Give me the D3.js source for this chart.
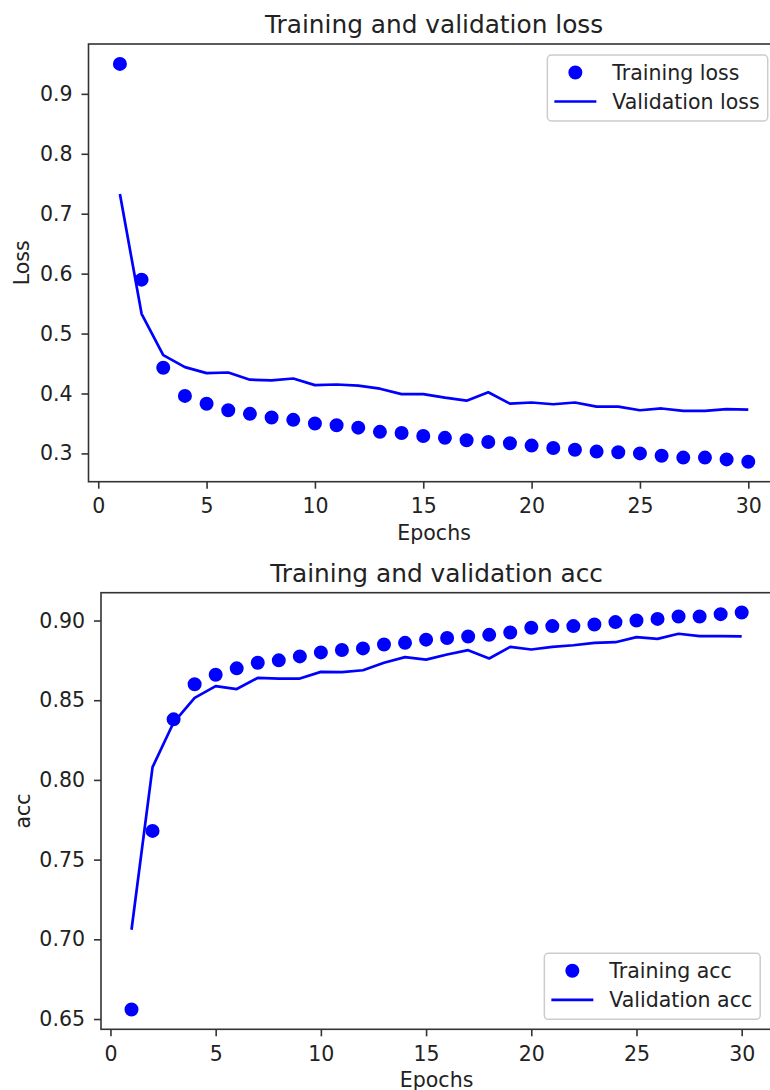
<!DOCTYPE html>
<html>
<head>
<meta charset="utf-8">
<script src="https://cdn.jsdelivr.net/npm/d3@7"></script>
<style>
  html, body { margin: 0; padding: 0; background: #fff; }
  svg { display: block; overflow: hidden; font-family: "DejaVu Sans", sans-serif; }
</style>
</head>
<body>
<svg id="chart"></svg>
<script>
var epochs = d3.range(1, 31);
var trainLoss = [0.950, 0.590, 0.443, 0.396, 0.383, 0.372, 0.366, 0.360, 0.356, 0.350,
  0.347, 0.343, 0.336, 0.334, 0.329, 0.326, 0.322, 0.319, 0.317, 0.313,
  0.309, 0.306, 0.303, 0.302, 0.300, 0.296, 0.293, 0.293, 0.290, 0.286];
var valLoss = [0.733, 0.533, 0.464, 0.444, 0.434, 0.435, 0.423, 0.422, 0.425, 0.414,
  0.415, 0.413, 0.408, 0.399, 0.399, 0.393, 0.388, 0.402, 0.383, 0.385,
  0.382, 0.385, 0.378, 0.378, 0.372, 0.375, 0.371, 0.371, 0.374, 0.373];
var trainAcc = [0.656, 0.768, 0.838, 0.860, 0.866, 0.870, 0.8735, 0.875, 0.8775, 0.880,
  0.8815, 0.8825, 0.885, 0.886, 0.888, 0.889, 0.890, 0.891, 0.8925, 0.8955,
  0.8965, 0.8965, 0.8975, 0.899, 0.900, 0.901, 0.9025, 0.9025, 0.904, 0.905];
var valAcc = [0.706, 0.808, 0.836, 0.8515, 0.8588, 0.857, 0.864, 0.8636, 0.8636, 0.8678,
  0.8676, 0.8688, 0.8735, 0.877, 0.8755, 0.8787, 0.8814, 0.8762, 0.8835, 0.8818,
  0.8835, 0.8845, 0.886, 0.8864, 0.8896, 0.8885, 0.8917, 0.8902, 0.8902, 0.890];
var epochTicks = [0, 5, 10, 15, 20, 25, 30];
var lossTicks = [0.3, 0.4, 0.5, 0.6, 0.7, 0.8, 0.9];
var accTicks = [0.65, 0.70, 0.75, 0.80, 0.85, 0.90];

(function () {
  var W = 770, H = 1090;
  var ink = "#222";
  var spine = "#333";
  var blue = "#0000ff";
  var fs = "20.5px";

  var svg = d3.select("#chart")
    .attr("width", W)
    .attr("height", H)
    .attr("viewBox", [0, 0, W, H]);

  // matplotlib-style 5% margins
  function padExtent(ext) {
    var d = (ext[1] - ext[0]) * 0.05;
    return [ext[0] - d, ext[1] + d];
  }

  function panel(o) {
    var x = d3.scaleLinear().domain(padExtent(d3.extent(epochs))).range([o.left, o.right]);
    var y = d3.scaleLinear()
      .domain(padExtent(d3.extent(o.train.concat(o.val))))
      .range([o.bottom, o.top]);

    var g = svg.append("g");

    var xAxis = g.append("g")
      .attr("transform", "translate(0," + o.bottom + ")")
      .call(d3.axisBottom(x).tickValues(epochTicks).tickSize(7).tickPadding(10).tickSizeOuter(0));
    var yAxis = g.append("g")
      .attr("transform", "translate(" + o.left + ",0)")
      .call(d3.axisLeft(y).tickValues(o.yTicks).tickFormat(d3.format(o.fmt))
        .tickSize(7).tickPadding(9).tickSizeOuter(0));

    [xAxis, yAxis].forEach(function (a) {
      a.select(".domain").remove();
      a.selectAll(".tick line").attr("stroke", spine).attr("stroke-width", 1.6);
      a.selectAll(".tick text")
        .attr("fill", ink)
        .style("font-family", "DejaVu Sans")
        .style("font-size", fs);
    });

    g.selectAll("circle.train")
      .data(o.train)
      .join("circle")
      .attr("class", "train")
      .attr("cx", function (d, i) { return x(epochs[i]); })
      .attr("cy", function (d) { return y(d); })
      .attr("r", 6)
      .attr("fill", blue)
      .attr("stroke", blue)
      .attr("stroke-width", 2);

    var line = d3.line()
      .x(function (d, i) { return x(epochs[i]); })
      .y(function (d) { return y(d); });
    g.append("path")
      .datum(o.val)
      .attr("d", line)
      .attr("fill", "none")
      .attr("stroke", blue)
      .attr("stroke-width", 2.7)
      .attr("stroke-linejoin", "round");

    // frame (right side falls outside the picture, as in the original)
    g.append("rect")
      .attr("x", o.left)
      .attr("y", o.top)
      .attr("width", o.right - o.left)
      .attr("height", o.bottom - o.top)
      .attr("fill", "none")
      .attr("stroke", spine)
      .attr("stroke-width", 1.6);

    var cx = (o.left + o.right) / 2;
    g.append("text")
      .attr("x", cx)
      .attr("y", o.top - 11)
      .attr("text-anchor", "middle")
      .attr("fill", ink)
      .style("font-size", "24.8px")
      .text(o.title);

    g.append("text")
      .attr("x", cx)
      .attr("y", o.bottom + 58)
      .attr("text-anchor", "middle")
      .attr("fill", ink)
      .style("font-size", fs)
      .text("Epochs");

    g.append("text")
      .attr("transform", "translate(" + o.yLabelX + "," + (o.top + o.bottom) / 2 + ") rotate(-90)")
      .attr("text-anchor", "middle")
      .attr("fill", ink)
      .style("font-size", fs)
      .text(o.yLabel);

    // legend
    var lg = g.append("g");
    var box = lg.append("rect");
    var labels = lg.selectAll("text")
      .data(o.labels)
      .join("text")
      .attr("fill", ink)
      .style("font-size", fs)
      .text(function (d) { return d; });
    var tw = 0;
    labels.each(function () { tw = Math.max(tw, this.getComputedTextLength()); });
    var bw = 65 + tw + 8, bh = 66;
    var bx = o.right - 12 - bw;
    var by = o.legendTop ? o.top + 11 : o.bottom - 10 - bh;
    box.attr("x", bx).attr("y", by).attr("width", bw).attr("height", bh)
      .attr("rx", 4)
      .attr("fill", "#fff").attr("fill-opacity", 0.8)
      .attr("stroke", "#cccccc").attr("stroke-width", 1.5);
    var rows = [by + 17.5, by + 46.5];
    labels.attr("x", bx + 65).attr("y", function (d, i) { return rows[i] + 7; });
    lg.append("circle")
      .attr("cx", bx + 28).attr("cy", rows[0]).attr("r", 6)
      .attr("fill", blue).attr("stroke", blue).attr("stroke-width", 2);
    lg.append("line")
      .attr("x1", bx + 7).attr("x2", bx + 49)
      .attr("y1", rows[1]).attr("y2", rows[1])
      .attr("stroke", blue).attr("stroke-width", 2.7);
  }

  panel({
    left: 88.5, right: 779.7, top: 44, bottom: 481.7,
    train: trainLoss, val: valLoss, yTicks: lossTicks, fmt: ".1f",
    title: "Training and validation loss", yLabel: "Loss", yLabelX: 28.5,
    labels: ["Training loss", "Validation loss"], legendTop: true
  });

  panel({
    left: 101, right: 772.2, top: 592.7, bottom: 1029.3,
    train: trainAcc, val: valAcc, yTicks: accTicks, fmt: ".2f",
    title: "Training and validation acc", yLabel: "acc", yLabelX: 30,
    labels: ["Training acc", "Validation acc"], legendTop: false
  });
})();
</script>
</body>
</html>
